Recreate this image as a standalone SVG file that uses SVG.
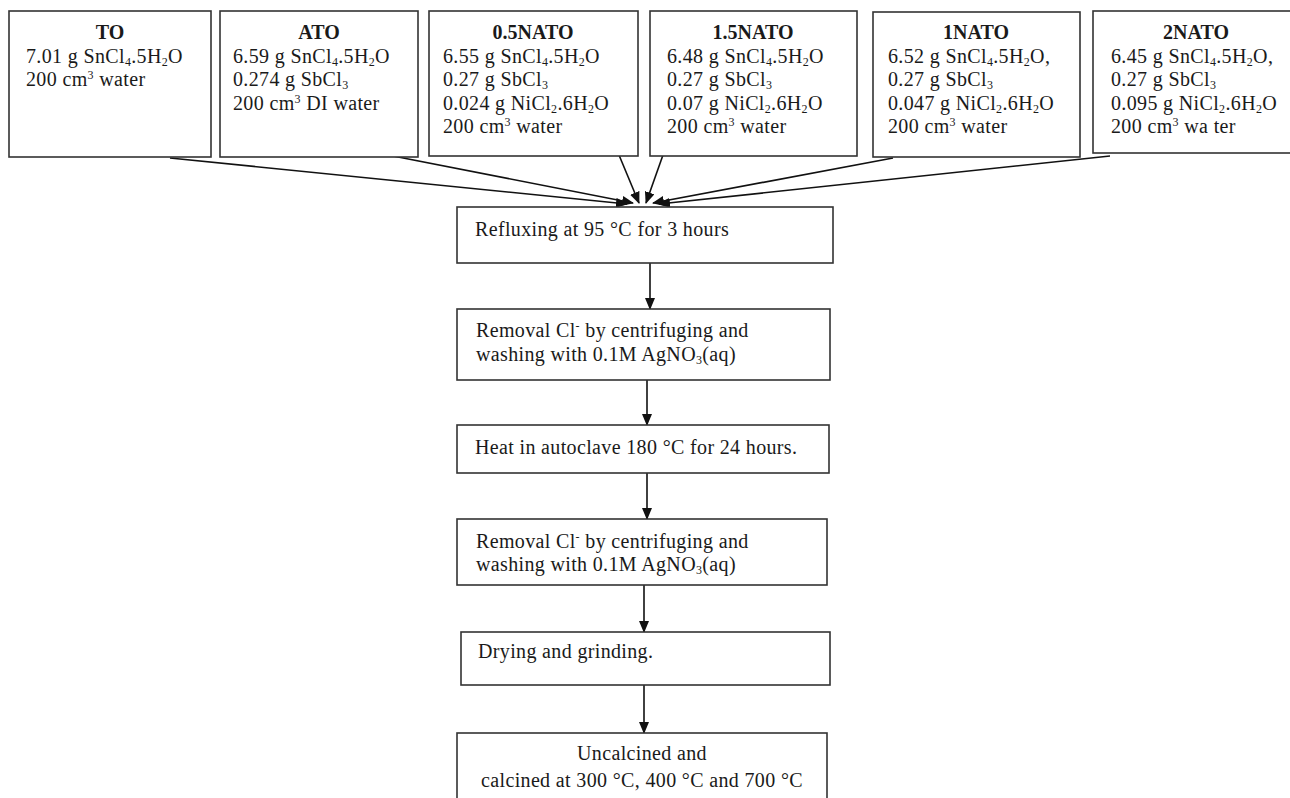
<svg xmlns="http://www.w3.org/2000/svg" width="1290" height="798" viewBox="0 0 1290 798">
<defs>
<marker id="ah" markerWidth="12" markerHeight="10" refX="11" refY="5" orient="auto" markerUnits="userSpaceOnUse">
<path d="M0,0 L12,5 L0,10 Z" fill="#111"/>
</marker>
<style>
.box{fill:#fff;stroke:#333;stroke-width:1.6}
text{font-family:"Liberation Serif","Times New Roman",serif;font-size:20px;letter-spacing:0.35px;fill:#1a1a1a}
.t{font-weight:bold;text-anchor:middle;letter-spacing:0}
.c{text-anchor:middle}
.sb{font-size:12px;baseline-shift:-3px}
.sp{font-size:12px;baseline-shift:7px}
.ln{stroke:#111;stroke-width:1.6;fill:none;marker-end:url(#ah)}
</style>
</defs>
<rect width="1290" height="798" fill="#fff"/>

<g id="connectors">
<line class="ln" x1="170" y1="158" x2="627" y2="204"/>
<line class="ln" x1="393" y1="156" x2="633" y2="203"/>
<line class="ln" x1="619" y1="155" x2="639" y2="203"/>
<line class="ln" x1="663" y1="155" x2="646" y2="203"/>
<line class="ln" x1="893" y1="158" x2="653" y2="203"/>
<line class="ln" x1="1110" y1="156" x2="659" y2="204"/>
<line class="ln" x1="650" y1="263" x2="650" y2="309"/>
<line class="ln" x1="647" y1="380" x2="647" y2="425"/>
<line class="ln" x1="647" y1="473" x2="647" y2="519"/>
<line class="ln" x1="644" y1="585" x2="644" y2="632"/>
<line class="ln" x1="644" y1="685" x2="644" y2="733"/>
</g>

<g id="TO">
<rect class="box" x="9" y="11" width="202" height="146"/>
<text class="t" x="110" y="39">TO</text>
<text x="26" y="62.5">7.01 g SnCl<tspan class="sb">4</tspan>.5H<tspan class="sb">2</tspan>O</text>
<text x="26" y="86">200 cm<tspan class="sp">3</tspan> water</text>
</g>

<g id="ATO">
<rect class="box" x="220" y="11" width="198" height="146"/>
<text class="t" x="319" y="39">ATO</text>
<text x="233" y="62.5">6.59 g SnCl<tspan class="sb">4</tspan>.5H<tspan class="sb">2</tspan>O</text>
<text x="233" y="86">0.274 g SbCl<tspan class="sb">3</tspan></text>
<text x="233" y="109.5">200 cm<tspan class="sp">3</tspan> DI water</text>
</g>

<g id="NATO05">
<rect class="box" x="429" y="11" width="209" height="145"/>
<text class="t" x="533" y="39">0.5NATO</text>
<text x="443" y="62.5">6.55 g SnCl<tspan class="sb">4</tspan>.5H<tspan class="sb">2</tspan>O</text>
<text x="443" y="86">0.27 g SbCl<tspan class="sb">3</tspan></text>
<text x="443" y="109.5">0.024 g NiCl<tspan class="sb">2</tspan>.6H<tspan class="sb">2</tspan>O</text>
<text x="443" y="133">200 cm<tspan class="sp">3</tspan> water</text>
</g>

<g id="NATO15">
<rect class="box" x="650" y="11" width="207" height="145"/>
<text class="t" x="753" y="39">1.5NATO</text>
<text x="667" y="62.5">6.48 g SnCl<tspan class="sb">4</tspan>.5H<tspan class="sb">2</tspan>O</text>
<text x="667" y="86">0.27 g SbCl<tspan class="sb">3</tspan></text>
<text x="667" y="109.5">0.07 g NiCl<tspan class="sb">2</tspan>.6H<tspan class="sb">2</tspan>O</text>
<text x="667" y="133">200 cm<tspan class="sp">3</tspan> water</text>
</g>

<g id="NATO1">
<rect class="box" x="873" y="12" width="207" height="145"/>
<text class="t" x="976" y="39">1NATO</text>
<text x="888" y="62.5">6.52 g SnCl<tspan class="sb">4</tspan>.5H<tspan class="sb">2</tspan>O,</text>
<text x="888" y="86">0.27 g SbCl<tspan class="sb">3</tspan></text>
<text x="888" y="109.5">0.047 g NiCl<tspan class="sb">2</tspan>.6H<tspan class="sb">2</tspan>O</text>
<text x="888" y="133">200 cm<tspan class="sp">3</tspan> water</text>
</g>

<g id="NATO2">
<rect class="box" x="1093" y="11" width="210" height="142"/>
<text class="t" x="1196" y="39">2NATO</text>
<text x="1111" y="62.5">6.45 g SnCl<tspan class="sb">4</tspan>.5H<tspan class="sb">2</tspan>O,</text>
<text x="1111" y="86">0.27 g SbCl<tspan class="sb">3</tspan></text>
<text x="1111" y="109.5">0.095 g NiCl<tspan class="sb">2</tspan>.6H<tspan class="sb">2</tspan>O</text>
<text x="1111" y="133">200 cm<tspan class="sp">3</tspan> wa ter</text>
</g>

<g id="reflux">
<rect class="box" x="457" y="207" width="376" height="56"/>
<text x="475" y="236">Refluxing at 95 °C  for 3 hours</text>
</g>

<g id="removal1">
<rect class="box" x="457" y="309" width="373" height="71"/>
<text x="476" y="337">Removal Cl<tspan class="sp">-</tspan> by centrifuging and</text>
<text x="476" y="360.5">washing with 0.1M AgNO<tspan class="sb">3</tspan>(aq)</text>
</g>

<g id="autoclave">
<rect class="box" x="457" y="425" width="372" height="48"/>
<text x="475" y="454">Heat in autoclave 180 °C for 24 hours.</text>
</g>

<g id="removal2">
<rect class="box" x="457" y="519" width="370" height="66"/>
<text x="476" y="547.5">Removal Cl<tspan class="sp">-</tspan> by centrifuging and</text>
<text x="476" y="571">washing with 0.1M AgNO<tspan class="sb">3</tspan>(aq)</text>
</g>

<g id="drying">
<rect class="box" x="461" y="632" width="369" height="53"/>
<text x="478" y="658">Drying and grinding.</text>
</g>

<g id="calcined">
<rect class="box" x="457" y="733" width="370" height="80"/>
<text class="c" x="642" y="760">Uncalcined and</text>
<text class="c" x="642" y="787">calcined at 300 °C, 400 °C and 700 °C</text>
</g>
</svg>
